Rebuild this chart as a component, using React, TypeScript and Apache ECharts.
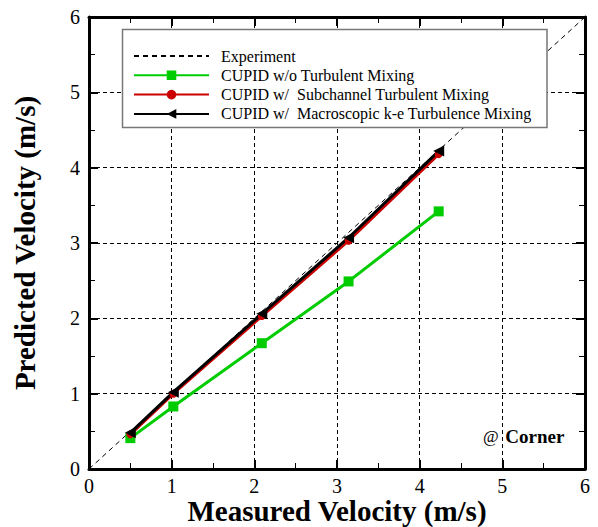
import React, { useEffect, useRef } from "react";
import * as echarts from "echarts";

const measured = [0.5, 1.02, 2.09, 3.14, 4.23];
const woMixing = [0.41, 0.83, 1.67, 2.49, 3.42];
const subchannel = [0.46, 1.0, 2.03, 3.03, 4.18];
const macroscopic = [0.48, 1.02, 2.06, 3.07, 4.22];
const experimentLine = [[0, 0], [6, 6]];
const seriesNames = [
  "Experiment",
  "CUPID w/o Turbulent Mixing",
  "CUPID w/  Subchannel Turbulent Mixing",
  "CUPID w/  Macroscopic k-e Turbulence Mixing",
];

const FONT = "'Liberation Serif', 'Times New Roman', serif";

export default function App() {
  const ref = useRef<HTMLDivElement>(null);
  useEffect(() => {
    if (!ref.current) return;
    const chart = echarts.init(ref.current, undefined, { renderer: "svg" });
    const pair = (ys: number[]) => measured.map((x, i) => [x, ys[i]]);
    const frame = { show: true, onZero: false, lineStyle: { color: "#000", width: 3 } };
    const tick = { show: true, inside: true, length: 9, lineStyle: { color: "#000", width: 2 } };
    const minor = { show: true, splitNumber: 2, length: 6, lineStyle: { color: "#000", width: 1 } };
    const grid = { show: true, lineStyle: { color: "#000", type: [4, 3], width: 1 } };
    const baseAxis = { type: "value", min: 0, max: 6, interval: 1 };
    chart.setOption({
      animation: false,
      backgroundColor: "#fff",
      textStyle: { fontFamily: FONT },
      grid: { left: 89, right: 13, top: 17, bottom: 58, containLabel: false, outerBoundsMode: "none" },
      xAxis: [
        {
          ...baseAxis,
          position: "bottom",
          name: "Measured Velocity (m/s)",
          nameLocation: "middle",
          nameGap: 29,
          nameMoveOverlap: false,
          nameTextStyle: { fontFamily: FONT, fontSize: 29, lineHeight: 26, fontWeight: "bold", color: "#000" },
          axisLine: frame,
          axisTick: tick,
          minorTick: minor,
          axisLabel: { margin: 8, fontFamily: FONT, fontSize: 20, lineHeight: 18, color: "#000" },
          splitLine: grid,
        },
        {
          ...baseAxis,
          position: "top",
          axisLine: frame,
          axisTick: tick,
          minorTick: minor,
          axisLabel: { show: false },
          splitLine: { show: false },
        },
      ],
      yAxis: [
        {
          ...baseAxis,
          position: "left",
          name: "Predicted Velocity (m/s)",
          nameLocation: "middle",
          nameGap: 50,
          nameMoveOverlap: false,
          nameTextStyle: { fontFamily: FONT, fontSize: 29, fontWeight: "bold", color: "#000" },
          axisLine: frame,
          axisTick: tick,
          minorTick: minor,
          axisLabel: { margin: 9, fontFamily: FONT, fontSize: 20, color: "#000" },
          splitLine: grid,
        },
        {
          ...baseAxis,
          position: "right",
          axisLine: frame,
          axisTick: tick,
          minorTick: minor,
          axisLabel: { show: false },
          splitLine: { show: false },
        },
      ],
      legend: {
        orient: "vertical",
        left: 133,
        top: 48,
        padding: 0,
        z: 10,
        itemWidth: 75,
        itemHeight: 12,
        itemGap: 3.3,
        textStyle: { fontFamily: FONT, fontSize: 16, lineHeight: 16, color: "#000", padding: [0, 0, 0, 7] },
        data: [
          { name: seriesNames[0], itemStyle: { color: "rgba(0,0,0,0)", borderWidth: 0 } },
          seriesNames[1],
          seriesNames[2],
          seriesNames[3],
        ],
      },
      graphic: [
        {
          type: "rect",
          z: 5,
          shape: { x: 122.5, y: 29.5, width: 424.5, height: 98 },
          style: { fill: "#fff", stroke: "#777", lineWidth: 1.5 },
        },
        {
          type: "text",
          left: 483,
          top: 427,
          z: 6,
          style: {
            text: "{a|@}  {b|Corner}",
            rich: {
              a: { fontFamily: FONT, fontSize: 17, fill: "#000" },
              b: { fontFamily: FONT, fontSize: 19, fontWeight: "bold", fill: "#000" },
            },
          },
        },
      ],
      series: [
        {
          name: seriesNames[0],
          type: "line",
          data: experimentLine,
          symbol: "none",
          lineStyle: { color: "#000", width: 1, type: [5, 4] },
          itemStyle: { color: "#000" },
          z: 1,
        },
        {
          name: seriesNames[1],
          type: "line",
          data: pair(woMixing),
          symbol: "rect",
          symbolSize: 10,
          lineStyle: { color: "#00cc00", width: 3 },
          itemStyle: { color: "#00cc00" },
        },
        {
          name: seriesNames[2],
          type: "line",
          data: pair(subchannel),
          symbol: "circle",
          symbolSize: 8,
          lineStyle: { color: "#cc0000", width: 3 },
          itemStyle: { color: "#cc0000" },
        },
        {
          name: seriesNames[3],
          type: "line",
          data: pair(macroscopic),
          symbol: "triangle",
          symbolRotate: 90,
          symbolSize: 11,
          lineStyle: { color: "#000", width: 3 },
          itemStyle: { color: "#000" },
        },
      ],
    });
    return () => chart.dispose();
  }, []);
  return <div ref={ref} style={{ width: 598, height: 527, position: "absolute", left: 0, top: 0 }} />;
}
